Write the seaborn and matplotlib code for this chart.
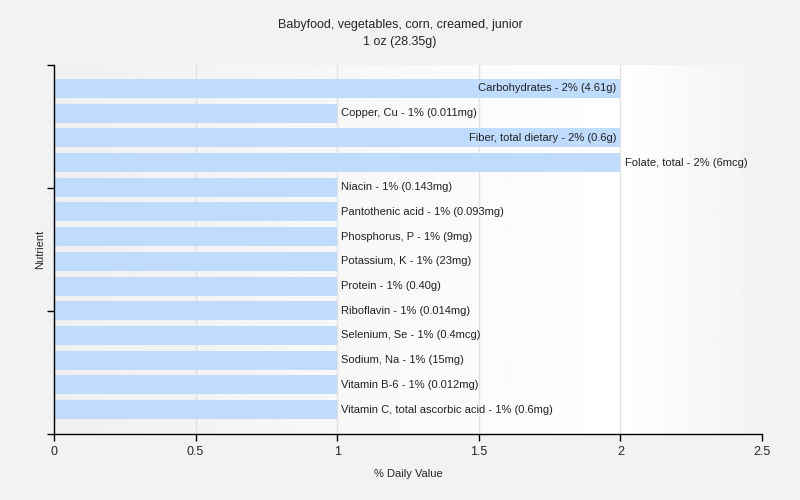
import numpy as np
import pandas as pd
import matplotlib
matplotlib.use("Agg")
import matplotlib.pyplot as plt
import seaborn as sns

# nutrient data
nutrients = ["Carbohydrates", "Copper, Cu", "Fiber, total dietary", "Folate, total",
             "Niacin", "Pantothenic acid", "Phosphorus, P", "Potassium, K", "Protein",
             "Riboflavin", "Selenium, Se", "Sodium, Na", "Vitamin B-6",
             "Vitamin C, total ascorbic acid"]
daily_pct = [2, 1, 2, 2, 1, 1, 1, 1, 1, 1, 1, 1, 1, 1]
amounts = ["4.61g", "0.011mg", "0.6g", "6mcg", "0.143mg", "0.093mg", "9mg", "23mg",
           "0.40g", "0.014mg", "0.4mcg", "15mg", "0.012mg", "0.6mg"]
inside_labels = ["Carbohydrates", "Fiber, total dietary"]

df = pd.DataFrame({"Nutrient": nutrients, "value": daily_pct, "amount": amounts})

sns.set_style("white")
plt.rcParams["font.family"] = ["Liberation Sans", "DejaVu Sans"]
fig = plt.figure(figsize=(8, 5), dpi=100, facecolor="#f2f2f2")
ax = fig.add_axes([54 / 800, 1 - 434 / 500, (762 - 54) / 800, (434 - 65) / 500])

# background gradient of the plot area
pos = np.linspace(0, 1, 400)
shade = np.where(pos < 0.8, 0.94 + 0.06 * pos / 0.8, 1.0 - 0.05 * (pos - 0.8) / 0.2)
grad = np.tile(shade, (2, 1))
ax.imshow(grad, cmap="gray", vmin=0, vmax=1, aspect="auto", extent=[0, 1, 0, 1],
          transform=ax.transAxes, zorder=0)

sns.barplot(data=df, x="value", y="Nutrient", color="#bfdbfe", saturation=1,
            width=0.77, linewidth=0, edgecolor="none", ax=ax, zorder=2)

for i, row in df.iterrows():
    label = f"{row['Nutrient']} - {row['value']}% ({row['amount']})"
    if row["Nutrient"] in inside_labels:
        ax.text(row["value"] - 0.015, i, label, ha="right", va="center", fontsize=8, color="#222222", zorder=3)
    else:
        ax.text(row["value"] + 0.015, i, label, ha="left", va="center", fontsize=8, color="#222222", zorder=3)

ax.set_xlim(0, 2.5)
ax.set_ylim(13.99, -0.95)
ax.set_xticks([0, 0.5, 1, 1.5, 2, 2.5])
ax.set_xticklabels(["0", "0.5", "1", "1.5", "2", "2.5"], fontsize=9)
lo, hi = -0.95, 13.99
ax.set_yticks([lo + k * (hi - lo) / 3 for k in range(4)])
ax.set_yticklabels([])
ax.tick_params(axis="both", direction="out", length=5, width=1, color="black", left=True, bottom=True)
ax.xaxis.grid(True, color="#e2e2e2", linewidth=1, zorder=1)
ax.set_axisbelow(True)
for s in ["top", "right"]:
    ax.spines[s].set_visible(False)
for s in ["left", "bottom"]:
    ax.spines[s].set_color("black")
    ax.spines[s].set_linewidth(1)

ax.set_xlabel("% Daily Value", fontsize=8, labelpad=8)
ax.set_ylabel("Nutrient", fontsize=8, labelpad=-2)
fig.suptitle("Babyfood, vegetables, corn, creamed, junior\n1 oz (28.35g)", fontsize=9,
             y=0.962, linespacing=1.6)

fig.savefig("out.png", dpi=100, facecolor=fig.get_facecolor())
